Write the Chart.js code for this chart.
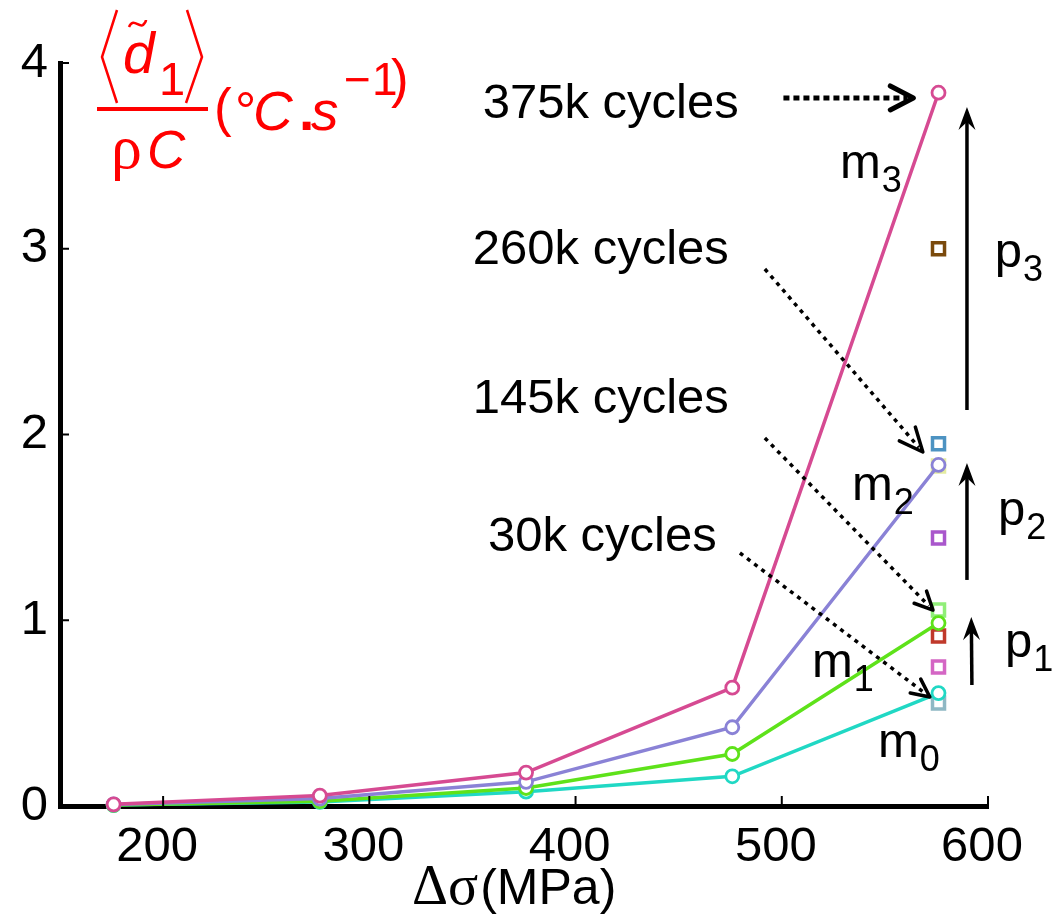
<!DOCTYPE html>
<html>
<head>
    <title>Mean dissipation vs stress range</title>
    <script src="https://cdn.jsdelivr.net/npm/chart.js"></script>
    <style>
        body {
            margin: 0;
            padding: 0;
            background-color: #fff;
        }

        #wrap {
            width: 1057px;
            height: 923px;
        }
    </style>
</head>
<body>
    <div id="wrap">
        <canvas id="chart" width="1057" height="923"></canvas>
    </div>

    <script>
        // stress range (MPa) of each block
        const stressRange = [176, 276, 376, 476, 576];

        // mean intrinsic dissipation per block, one curve per cycle count
        const m0 = [0.005, 0.022, 0.077, 0.16, 0.608];
        const m1 = [0.006, 0.026, 0.097, 0.28, 0.985];
        const m2 = [0.008, 0.040, 0.130, 0.424, 1.836];
        const m3 = [0.009, 0.056, 0.180, 0.637, 3.84];

        // single points measured at the last stress range
        const squareStress = 576;
        const squareValues = [3.0, 1.95, 1.83, 1.443, 1.055, 0.915, 0.748, 0.555];

        const xTicks = [200, 300, 400, 500, 600];
        const yTicks = [0, 1, 2, 3, 4];

        const FONT = '"Liberation Sans", Arial, Helvetica, sans-serif';
        const SERIF = '"Liberation Serif", "DejaVu Serif", serif';

        const lineColors = {
            m0: '#20d8c4',
            m1: '#5ee21a',
            m2: '#8a82d6',
            m3: '#d64a92'
        };
        const squareColors = ['#7a4a0c', '#4d93c2', '#e4eca0', '#a957cc', '#90ee78', '#c0392b', '#d466c4', '#8fb8c4'];

        // annotations, placed in data units (MPa, value)
        const cycleNotes = [
            { text: '375k cycles', at: [355, 3.704], from: [500.8, 3.812], to: [563.8, 3.812], dash: [6, 4], width: 5, arm: 26, angle: 0.48 },
            { text: '260k cycles', at: [350.2, 2.916], from: [491.8, 2.891], to: [568.4, 1.906], dash: [4, 5], width: 3.5, arm: 26, angle: 0.42 },
            { text: '145k cycles', at: [350.2, 2.116], from: [491.8, 1.981], to: [573.3, 1.055], dash: [4, 5], width: 3.5, arm: 20, angle: 0.45 },
            { text: '30k cycles', at: [357.5, 1.373], from: [479.7, 1.362], to: [571.8, 0.587], dash: [4, 5], width: 3.5, arm: 20, angle: 0.45 }
        ];

        const stepArrows = [
            { from: [589.8, 2.132], to: [589.8, 3.763] },
            { from: [589.8, 1.217], to: [589.8, 1.847] },
            { from: [592.2, 0.651], to: [591.9, 1.017] }
        ];

        const subLabels = [
            { main: 'm', sub: '3', at: [528.2, 3.381] },
            { main: 'm', sub: '2', at: [534.0, 1.647] },
            { main: 'm', sub: '1', at: [514.6, 0.694] },
            { main: 'm', sub: '0', at: [546.6, 0.264] },
            { main: 'p', sub: '3', at: [603.3, 2.902] },
            { main: 'p', sub: '2', at: [604.8, 1.513] },
            { main: 'p', sub: '1', at: [608.2, 0.802] }
        ];

        function toPoints(values) {
            return values.map((v, i) => ({ x: stressRange[i], y: v }));
        }

        function lineSet(name, values) {
            return {
                label: name,
                data: toPoints(values),
                showLine: true,
                borderColor: lineColors[name],
                borderWidth: 3.5,
                pointStyle: 'circle',
                pointRadius: 6.5,
                pointBorderWidth: 2.8,
                pointBorderColor: lineColors[name],
                pointBackgroundColor: '#fff',
                clip: false
            };
        }

        function drawArrowHead(ctx, tip, ang, arm, spread) {
            ctx.beginPath();
            ctx.moveTo(tip.x - arm * Math.cos(ang - spread), tip.y - arm * Math.sin(ang - spread));
            ctx.lineTo(tip.x, tip.y);
            ctx.lineTo(tip.x - arm * Math.cos(ang + spread), tip.y - arm * Math.sin(ang + spread));
            ctx.stroke();
        }

        function drawYTitle(ctx) {
            ctx.save();
            ctx.strokeStyle = '#ff0000';
            ctx.fillStyle = '#ff0000';
            ctx.lineWidth = 2.5;

            // angle brackets
            ctx.beginPath();
            ctx.moveTo(117, 10); ctx.lineTo(102, 57); ctx.lineTo(117, 103);
            ctx.moveTo(187, 10); ctx.lineTo(202, 57); ctx.lineTo(186, 103);
            ctx.stroke();

            // tilde over the d
            ctx.beginPath();
            ctx.moveTo(129, 27);
            ctx.bezierCurveTo(133, 17, 139, 28, 143, 25);
            ctx.bezierCurveTo(145, 23, 146, 21, 146, 20);
            ctx.stroke();

            ctx.textBaseline = 'alphabetic';
            ctx.textAlign = 'left';
            ctx.font = 'italic 57px ' + FONT;
            ctx.fillText('d', 123, 73);
            ctx.font = '47px ' + FONT;
            ctx.fillText('1', 159, 95);

            // fraction bar
            ctx.fillRect(97, 107, 111, 4);

            ctx.font = '62px ' + SERIF;
            ctx.fillText('\u03C1', 111, 168);
            ctx.font = 'italic 53px ' + FONT;
            ctx.fillText('C', 147, 168);

            // units
            ctx.font = '53px ' + FONT;
            ctx.fillText('(', 214, 126);
            ctx.fillText('\u00B0', 235, 130);
            ctx.font = 'italic 55px ' + FONT;
            ctx.fillText('C', 253, 130);
            ctx.font = 'bold 55px ' + FONT;
            ctx.fillText('.', 299, 130);
            ctx.font = 'italic 55px ' + FONT;
            ctx.fillText('s', 311, 130);
            ctx.font = '46px ' + FONT;
            ctx.fillText('\u2212', 344, 95);
            ctx.fillText('1', 372, 95);
            ctx.font = '53px ' + FONT;
            ctx.fillText(')', 391, 97);
            ctx.restore();
        }

        const decorations = {
            id: 'decorations',
            afterDraw(chart) {
                const ctx = chart.ctx;
                const a = chart.chartArea;
                const xs = chart.scales.x;
                const ys = chart.scales.y;
                const px = p => ({ x: xs.getPixelForValue(p[0]), y: ys.getPixelForValue(p[1]) });

                ctx.save();
                // inner tick marks
                ctx.strokeStyle = '#000';
                ctx.lineWidth = 2;
                xTicks.forEach(v => {
                    const x = xs.getPixelForValue(v);
                    ctx.beginPath();
                    ctx.moveTo(x, a.bottom);
                    ctx.lineTo(x, a.bottom - 10);
                    ctx.stroke();
                });
                yTicks.slice(1).forEach(v => {
                    const y = ys.getPixelForValue(v);
                    ctx.beginPath();
                    ctx.moveTo(a.left, y);
                    ctx.lineTo(a.left + 9, y);
                    ctx.stroke();
                });

                // cycle labels with dotted arrows
                ctx.fillStyle = '#000';
                ctx.font = '49px ' + FONT;
                ctx.textAlign = 'left';
                ctx.textBaseline = 'alphabetic';
                cycleNotes.forEach(n => {
                    const t = px(n.at);
                    ctx.fillText(n.text, t.x, t.y);
                    const p0 = px(n.from);
                    const p1 = px(n.to);
                    const ang = Math.atan2(p1.y - p0.y, p1.x - p0.x);
                    ctx.lineWidth = n.width;
                    ctx.lineCap = 'butt';
                    ctx.setLineDash(n.dash);
                    ctx.beginPath();
                    ctx.moveTo(p0.x, p0.y);
                    ctx.lineTo(p1.x - 6 * Math.cos(ang), p1.y - 6 * Math.sin(ang));
                    ctx.stroke();
                    ctx.setLineDash([]);
                    ctx.lineCap = 'round';
                    ctx.lineJoin = 'round';
                    ctx.lineWidth = n.width;
                    drawArrowHead(ctx, p1, ang, n.arm, n.angle);
                });

                // solid step arrows
                ctx.lineCap = 'butt';
                stepArrows.forEach(s => {
                    const p0 = px(s.from);
                    const p1 = px(s.to);
                    const ang = Math.atan2(p1.y - p0.y, p1.x - p0.x);
                    const c = Math.cos(ang), sn = Math.sin(ang);
                    ctx.lineWidth = 3.5;
                    ctx.beginPath();
                    ctx.moveTo(p0.x, p0.y);
                    ctx.lineTo(p1.x - 12 * c, p1.y - 12 * sn);
                    ctx.stroke();
                    ctx.beginPath();
                    ctx.moveTo(p1.x, p1.y);
                    ctx.lineTo(p1.x - 23 * c + 8.5 * sn, p1.y - 23 * sn - 8.5 * c);
                    ctx.lineTo(p1.x - 15 * c, p1.y - 15 * sn);
                    ctx.lineTo(p1.x - 23 * c - 8.5 * sn, p1.y - 23 * sn + 8.5 * c);
                    ctx.closePath();
                    ctx.fill();
                });

                // m / p labels with subscripts
                subLabels.forEach(l => {
                    const t = px(l.at);
                    ctx.font = '49px ' + FONT;
                    ctx.fillText(l.main, t.x, t.y);
                    const w = ctx.measureText(l.main).width;
                    ctx.font = '36px ' + FONT;
                    ctx.fillText(l.sub, t.x + w + 1, t.y + 14);
                });

                // x axis title
                const tx = xs.getPixelForValue(320.7);
                ctx.font = '56px ' + SERIF;
                ctx.fillText('\u0394\u03C3', tx, 904);
                const w2 = ctx.measureText('\u0394\u03C3').width;
                ctx.font = '50px ' + FONT;
                ctx.fillText('(MPa)', tx + w2 + 2, 904);
                ctx.restore();

                drawYTitle(ctx);
            }
        };

        const squareSet = {
            label: 'single',
            data: squareValues.map(v => ({ x: squareStress, y: v })),
            showLine: false,
            pointStyle: 'rect',
            pointRadius: 8.5,
            pointBorderWidth: 3.5,
            pointBorderColor: squareColors,
            pointBackgroundColor: 'rgba(255,255,255,0)',
            clip: false
        };

        new Chart(document.getElementById('chart'), {
            type: 'scatter',
            data: {
                datasets: [
                    lineSet('m3', m3),
                    lineSet('m2', m2),
                    lineSet('m1', m1),
                    lineSet('m0', m0),
                    squareSet
                ]
            },
            options: {
                responsive: false,
                animation: false,
                devicePixelRatio: 1,
                layout: {
                    padding: { top: 63, right: 69, left: 0, bottom: 0 }
                },
                plugins: {
                    legend: { display: false },
                    tooltip: { enabled: false }
                },
                scales: {
                    x: {
                        type: 'linear',
                        min: 150,
                        max: 600,
                        afterBuildTicks: s => { s.ticks = xTicks.map(v => ({ value: v })); },
                        afterFit: s => { s.height = 117; },
                        grid: { display: false, drawTicks: false },
                        border: { display: true, color: '#000', width: 5 },
                        ticks: {
                            font: { family: FONT, size: 49 },
                            color: '#000',
                            padding: 12,
                            labelOffset: -6,
                            maxRotation: 0,
                            autoSkip: false
                        }
                    },
                    y: {
                        type: 'linear',
                        min: 0,
                        max: 4,
                        afterBuildTicks: s => { s.ticks = yTicks.map(v => ({ value: v })); },
                        afterFit: s => { s.width = 60; },
                        grid: { display: false, drawTicks: false },
                        border: { display: true, color: '#000', width: 5 },
                        ticks: {
                            font: { family: FONT, size: 49 },
                            color: '#000',
                            padding: 12
                        }
                    }
                }
            },
            plugins: [decorations]
        });
    </script>
</body>
</html>
